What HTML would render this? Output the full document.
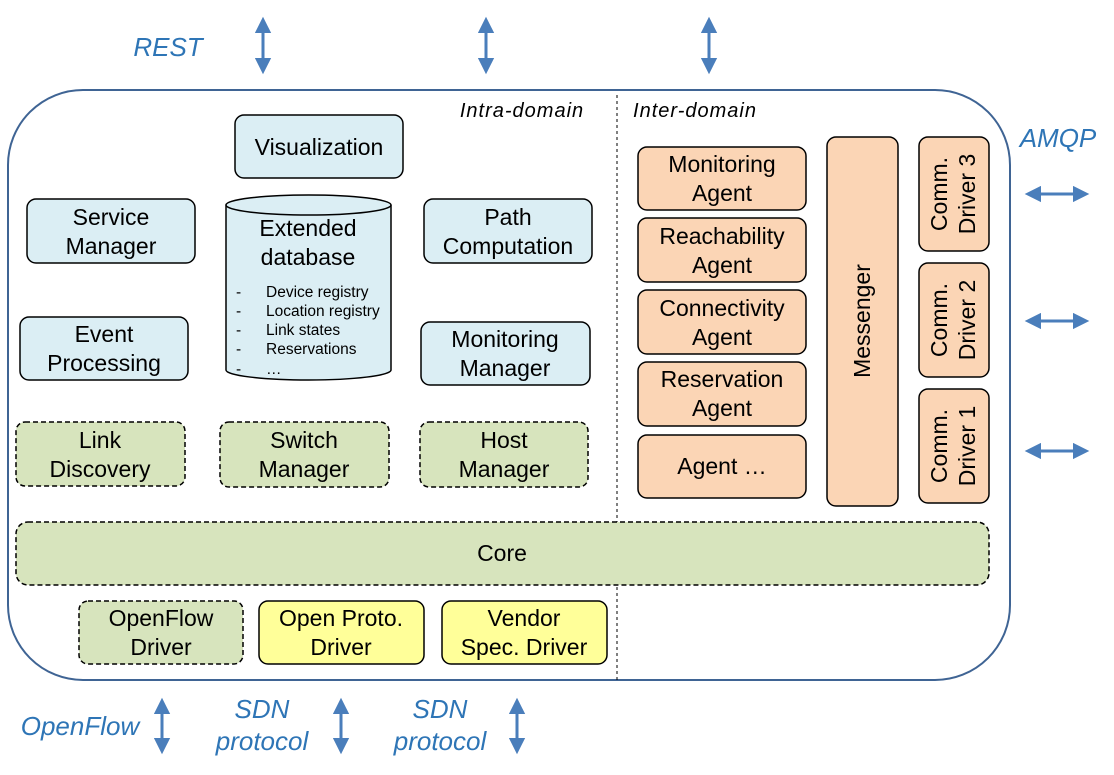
<!DOCTYPE html>
<html><head><meta charset="utf-8"><style>
html,body{margin:0;padding:0;background:#fff;}
svg{display:block;font-family:"Liberation Sans",sans-serif;}
.t{font-size:23px;fill:#000;text-anchor:middle;}
.l{font-size:26px;fill:#2e75b6;font-style:italic;text-anchor:middle;}
.s{font-size:15.5px;fill:#000;}
</style></head><body>
<svg width="1114" height="775" viewBox="0 0 1114 775">
<defs>
<marker id="a" viewBox="0 0 10 10" refX="8" refY="5" markerWidth="5.5" markerHeight="5.5" orient="auto-start-reverse"><path d="M0,0 L10,5 L0,10 z" fill="#4a7ebb"/></marker>
</defs>
<rect x="8" y="90" width="1002" height="590" rx="75" fill="#fff" stroke="#3f6494" stroke-width="2"/>
<line x1="617" y1="95" x2="617" y2="680" stroke="#000" stroke-dasharray="3,3"/>
<text x="522" y="117" style="font-size:20px;font-style:italic;letter-spacing:1px" text-anchor="middle">Intra-domain</text>
<text x="695" y="117" style="font-size:20px;font-style:italic;letter-spacing:1px" text-anchor="middle">Inter-domain</text>

<g stroke="#000" stroke-width="1.5">
<rect x="235" y="115" width="168" height="63" rx="9" fill="#dbeef4"/>
<rect x="27" y="199" width="168" height="64" rx="9" fill="#dbeef4"/>
<rect x="424" y="199" width="168" height="64" rx="9" fill="#dbeef4"/>
<rect x="20" y="317" width="168" height="63" rx="9" fill="#dbeef4"/>
<rect x="421" y="322" width="169" height="63" rx="9" fill="#dbeef4"/>
<rect x="16" y="422" width="169" height="64" rx="9" fill="#d7e4bd" stroke-dasharray="5,3"/>
<rect x="220" y="422" width="169" height="65" rx="9" fill="#d7e4bd" stroke-dasharray="5,3"/>
<rect x="420" y="422" width="168" height="65" rx="9" fill="#d7e4bd" stroke-dasharray="5,3"/>
<rect x="16" y="522" width="973" height="63" rx="12" fill="#d7e4bd" stroke-dasharray="5,3"/>
<rect x="79" y="601" width="164" height="63" rx="9" fill="#d7e4bd" stroke-dasharray="5,3"/>
<rect x="259" y="601" width="165" height="63" rx="9" fill="#ffff99"/>
<rect x="442" y="601" width="165" height="63" rx="9" fill="#ffff99"/>
<rect x="638" y="147" width="168" height="63" rx="9" fill="#fbd5b5"/>
<rect x="638" y="218" width="168" height="64" rx="9" fill="#fbd5b5"/>
<rect x="638" y="290" width="168" height="64" rx="9" fill="#fbd5b5"/>
<rect x="638" y="362" width="168" height="64" rx="9" fill="#fbd5b5"/>
<rect x="638" y="435" width="168" height="63" rx="9" fill="#fbd5b5"/>
<rect x="827" y="137" width="71" height="369" rx="9" fill="#fbd5b5"/>
<rect x="919" y="137" width="70" height="114" rx="9" fill="#fbd5b5"/>
<rect x="919" y="263" width="70" height="114" rx="9" fill="#fbd5b5"/>
<rect x="919" y="389" width="70" height="114" rx="9" fill="#fbd5b5"/>
<path d="M226,205 L226,370 A82.5,10 0 0 0 391,370 L391,205" fill="#dbeef4"/>
<ellipse cx="308.5" cy="205" rx="82.5" ry="10" fill="#dbeef4"/>
</g>

<text class="t" x="319" y="155">Visualization</text>
<text class="t" x="111" y="225">Service</text><text class="t" x="111" y="254">Manager</text>
<text class="t" x="508" y="225">Path</text><text class="t" x="508" y="254">Computation</text>
<text class="t" x="104" y="342">Event</text><text class="t" x="104" y="371">Processing</text>
<text class="t" x="505" y="347">Monitoring</text><text class="t" x="505" y="376">Manager</text>
<text class="t" x="100" y="448">Link</text><text class="t" x="100" y="477">Discovery</text>
<text class="t" x="304" y="448">Switch</text><text class="t" x="304" y="477">Manager</text>
<text class="t" x="504" y="448">Host</text><text class="t" x="504" y="477">Manager</text>
<text class="t" x="502" y="561">Core</text>
<text class="t" x="161" y="626">OpenFlow</text><text class="t" x="161" y="655">Driver</text>
<text class="t" x="341" y="626">Open Proto.</text><text class="t" x="341" y="655">Driver</text>
<text class="t" x="524" y="626">Vendor</text><text class="t" x="524" y="655">Spec. Driver</text>
<text class="t" x="308" y="236">Extended</text><text class="t" x="308" y="265">database</text>
<g class="s">
<text x="236" y="297">-</text><text x="266" y="297">Device registry</text>
<text x="236" y="316">-</text><text x="266" y="316">Location registry</text>
<text x="236" y="335">-</text><text x="266" y="335">Link states</text>
<text x="236" y="354">-</text><text x="266" y="354">Reservations</text>
<text x="236" y="374">-</text><text x="266" y="374">…</text>
</g>
<text class="t" x="722" y="172">Monitoring</text><text class="t" x="722" y="201">Agent</text>
<text class="t" x="722" y="244">Reachability</text><text class="t" x="722" y="273">Agent</text>
<text class="t" x="722" y="316">Connectivity</text><text class="t" x="722" y="345">Agent</text>
<text class="t" x="722" y="387">Reservation</text><text class="t" x="722" y="416">Agent</text>
<text class="t" x="722" y="474">Agent …</text>
<text class="t" transform="translate(870,321) rotate(-90)">Messenger</text>
<text class="t" transform="translate(947,194) rotate(-90)">Comm.</text><text class="t" transform="translate(975,194) rotate(-90)">Driver 3</text>
<text class="t" transform="translate(947,320) rotate(-90)">Comm.</text><text class="t" transform="translate(975,320) rotate(-90)">Driver 2</text>
<text class="t" transform="translate(947,446) rotate(-90)">Comm.</text><text class="t" transform="translate(975,446) rotate(-90)">Driver 1</text>

<g stroke="#4a7ebb" stroke-width="3" marker-start="url(#a)" marker-end="url(#a)">
<line x1="263" y1="20" x2="263" y2="71"/>
<line x1="486" y1="20" x2="486" y2="71"/>
<line x1="709" y1="20" x2="709" y2="71"/>
<line x1="162" y1="701" x2="162" y2="751"/>
<line x1="341" y1="701" x2="341" y2="751"/>
<line x1="517" y1="701" x2="517" y2="751"/>
<line x1="1028" y1="194" x2="1086" y2="194"/>
<line x1="1028" y1="321" x2="1086" y2="321"/>
<line x1="1028" y1="451" x2="1086" y2="451"/>
</g>
<text class="l" x="168" y="56">REST</text>
<text class="l" x="1058" y="147">AMQP</text>
<text class="l" x="80" y="735">OpenFlow</text>
<text class="l" x="262" y="718">SDN</text><text class="l" x="262" y="750">protocol</text>
<text class="l" x="440" y="718">SDN</text><text class="l" x="440" y="750">protocol</text>
</svg>
</body></html>
